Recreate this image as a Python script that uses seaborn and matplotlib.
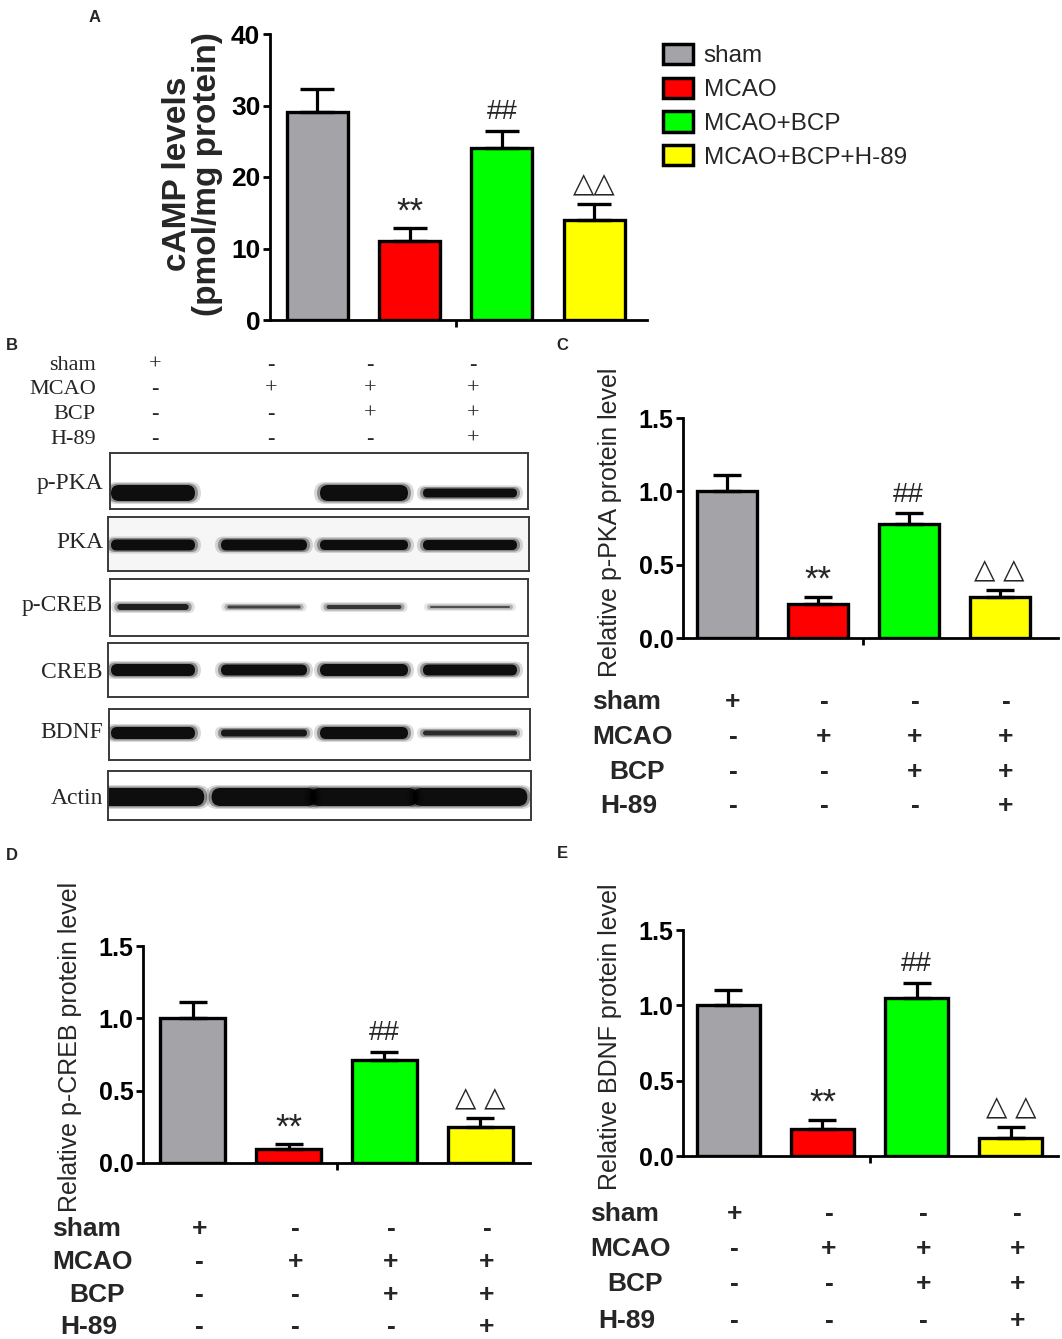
import numpy as np
import pandas as pd
import matplotlib
matplotlib.use("Agg")
import matplotlib.pyplot as plt
import seaborn as sns
from matplotlib import font_manager, transforms
from matplotlib.patches import Patch, FancyBboxPatch

W, H = 1062, 1339

groups = ['sham', 'MCAO', 'MCAO+BCP', 'MCAO+BCP+H-89']
bar_colors = ['#a3a3a8', '#ff0000', '#00ff00', '#ffff00']

# Panel A: cAMP
camp_mean = [29.1, 11.0, 24.0, 14.0]
camp_sem = [3.2, 1.8, 2.5, 2.2]
# Panel C: p-PKA
ppka_mean = [1.0, 0.23, 0.78, 0.28]
ppka_sem = [0.11, 0.05, 0.07, 0.05]
# Panel D: p-CREB
pcreb_mean = [1.0, 0.10, 0.71, 0.25]
pcreb_sem = [0.11, 0.03, 0.06, 0.06]
# Panel E: BDNF
bdnf_mean = [1.0, 0.18, 1.05, 0.12]
bdnf_sem = [0.10, 0.06, 0.10, 0.07]

marks = ['', '**', '##', '\u25b3\u25b3']
marks_wide = ['', '**', '##', '\u25b3 \u25b3']

treat_rows = ['sham', 'MCAO', 'BCP', 'H-89']
treat_signs = [['+', '-', '-', '-'],
               ['-', '+', '+', '+'],
               ['-', '-', '+', '+'],
               ['-', '-', '-', '+']]

# western blot band thickness (px) per lane
blot_names = ['p-PKA', 'PKA', 'p-CREB', 'CREB', 'BDNF', 'Actin']
ppka_band = [16, 0, 16, 9]
pka_band = [11, 11, 10, 10]
pcreb_band = [6, 3, 4, 2]
creb_band = [12, 11, 12, 11]
bdnf_band = [12, 7, 12, 5]
actin_band = [18, 18, 18, 18]

sns.set_theme(style='white')
plt.rcParams['font.family'] = ['Liberation Sans', 'DejaVu Sans']

names = {f.name for f in font_manager.fontManager.ttflist}
narrow = 'Liberation Sans Narrow' if 'Liberation Sans Narrow' in names else 'Liberation Sans'
NARROW = [narrow, 'DejaVu Sans']
SERIF = ['Liberation Serif', 'DejaVu Serif']

fig = plt.figure(figsize=(W / 100, H / 100), dpi=100)


def rect(l, t, r, b):
    return [l / W, 1 - b / H, (r - l) / W, (b - t) / H]


def bar_panel(ax, means, sems, mk, ylim, yticks, ylabels, xlim, width, cap,
              tick_font, tick_size, mark_size):
    df = pd.DataFrame({'group': groups, 'value': means})
    sns.barplot(data=df, x='group', y='value', hue='group', palette=bar_colors,
                saturation=1, edgecolor='black', linewidth=2.4, width=width,
                legend=False, ax=ax, zorder=2)
    ax.errorbar(np.arange(4), means, yerr=[np.zeros(4), sems], fmt='none',
                ecolor='black', elinewidth=2.3, capsize=cap, capthick=2.4, zorder=3)
    for i, (m, s, t) in enumerate(zip(means, sems, mk)):
        if t:
            big = t == '**'
            ax.annotate(t, (i, m + s), xytext=(0, 0 if big else 4),
                        textcoords='offset points', ha='center', va='bottom',
                        fontsize=mark_size + (5 if big else 0),
                        family=['Liberation Sans', 'DejaVu Sans'])
    ax.set_xlim(xlim)
    ax.set_ylim(ylim)
    ax.set_xticks([1.5])
    ax.set_xticklabels([''])
    ax.set_yticks(yticks)
    ax.set_yticklabels(ylabels, fontweight='bold', fontsize=tick_size, family=tick_font)
    ax.set_xlabel('')
    ax.tick_params(axis='both', direction='out', length=5, width=2, colors='black', pad=2,
                   left=True, bottom=True)
    for side in ['top', 'right']:
        ax.spines[side].set_visible(False)
    for side in ['left', 'bottom']:
        ax.spines[side].set_linewidth(2)
        ax.spines[side].set_color('black')
    ax.set_facecolor('none')


def sign_table(ax, rows_y, label_x):
    trans = transforms.blended_transform_factory(ax.transData, fig.transFigure)
    offs = [0, 0, 17, 8]
    for r, (name, signs) in enumerate(zip(treat_rows, treat_signs)):
        y = 1 - rows_y[r] / H
        fig.text((label_x + offs[r]) / W, y, name, ha='left', va='center',
                 fontsize=19, fontweight='bold')
        for i, s in enumerate(signs):
            ax.text(i + 0.07, y, s, transform=trans, ha='center', va='center',
                    fontsize=19, fontweight='bold')


# ---------- Panel A ----------
axA = fig.add_axes(rect(270, 34, 647, 320))
bar_panel(axA, camp_mean, camp_sem, marks, (0, 40), [0, 10, 20, 30, 40],
          ['0', '10', '20', '30', '40'], (-0.51, 3.57), 0.66, 12, NARROW, 19, 20)
axA.set_ylabel('cAMP levels\n(pmol/mg protein)', fontsize=24, fontweight='bold',
               linespacing=0.95)
axA.yaxis.set_label_coords(-0.125, 0.51)
handles = [Patch(facecolor=c, edgecolor='black', linewidth=2.5) for c in bar_colors]
axA.legend(handles, groups, loc='upper left', bbox_to_anchor=(663 / W, 1 - 44 / H),
           bbox_transform=fig.transFigure, frameon=False,
           prop={'family': NARROW, 'size': 17.5},
           handlelength=1.23, handleheight=0.9, handletextpad=0.45, labelspacing=0.42,
           borderaxespad=0, borderpad=0)

# ---------- Panel C ----------
axC = fig.add_axes(rect(683, 418, 1058, 638))
bar_panel(axC, ppka_mean, ppka_sem, marks_wide, (0, 1.5), [0, 0.5, 1.0, 1.5],
          ['0.0', '0.5', '1.0', '1.5'], (-0.48, 3.64), 0.66, 10,
          ['Liberation Sans', 'DejaVu Sans'], 18, 20)
axC.set_ylabel('Relative p-PKA protein level', fontsize=18)
axC.yaxis.set_label_coords(-0.163, 0.525)
sign_table(axC, [702, 737, 772, 806], 592)

# ---------- Panel D ----------
axD = fig.add_axes(rect(143, 946, 530, 1163))
bar_panel(axD, pcreb_mean, pcreb_sem, marks_wide, (0, 1.5), [0, 0.5, 1.0, 1.5],
          ['0.0', '0.5', '1.0', '1.5'], (-0.52, 3.52), 0.68, 10,
          ['Liberation Sans', 'DejaVu Sans'], 18, 20)
axD.set_ylabel('Relative p-CREB protein level', fontsize=18)
axD.yaxis.set_label_coords(-0.158, 0.535)
sign_table(axD, [1229, 1262, 1295, 1327], 52)

# ---------- Panel E ----------
axE = fig.add_axes(rect(683, 930, 1058, 1156))
bar_panel(axE, bdnf_mean, bdnf_sem, marks_wide, (0, 1.5), [0, 0.5, 1.0, 1.5],
          ['0.0', '0.5', '1.0', '1.5'], (-0.48, 3.5), 0.67, 10,
          ['Liberation Sans', 'DejaVu Sans'], 18, 20)
axE.set_ylabel('Relative BDNF protein level', fontsize=18)
axE.yaxis.set_label_coords(-0.163, 0.527)
sign_table(axE, [1214, 1249, 1284, 1321], 590)

# ---------- Panel B: western blot ----------
lane_x = [153, 264, 364, 470]
lane_w = [84, 86, 88, 94]
header_x = [155, 271, 370, 473]
header_y = [365, 389, 414, 439]
for r, (name, signs) in enumerate(zip(treat_rows, treat_signs)):
    fig.text(96 / W, 1 - header_y[r] / H, name, ha='right', va='center',
             fontsize=16, family=SERIF)
    for x, s in zip(header_x, signs):
        fig.text(x / W, 1 - header_y[r] / H, s, ha='center', va='center',
                 fontsize=16, family=SERIF)

blot_boxes = [(110, 453, 528, 509), (108, 517, 529, 571), (110, 579, 528, 636),
              (108, 643, 528, 697), (109, 709, 530, 760), (108, 771, 531, 820)]
band_center = [40, 28, 28, 27, 24, 26]
band_scale = [1.0, 1.0, 0.85, 1.0, 1.0, 1.22]
band_sets = [ppka_band, pka_band, pcreb_band, creb_band, bdnf_band, actin_band]
label_y = [484, 543, 606, 672, 733, 799]

for name, box, yc, ws, bands, ly in zip(blot_names, blot_boxes, band_center,
                                        band_scale, band_sets, label_y):
    l, t, r, b = box
    ax = fig.add_axes(rect(l, t, r, b))
    ax.set_xlim(l, r)
    ax.set_ylim(b - t, 0)
    ax.set_xticks([])
    ax.set_yticks([])
    ax.set_facecolor('#f6f6f6' if name == 'PKA' else 'white')
    for sp in ax.spines.values():
        sp.set_linewidth(1.4)
        sp.set_color('#3a3a3a')
    for x, w, h in zip(lane_x, lane_w, bands):
        if h <= 0:
            continue
        w = w * ws
        dark = min(1.0, 0.5 + h / 16)
        for grow, alpha in [(6, 0.15), (3, 0.35), (0, 0.9)]:
            hh = h + grow
            ww = w + grow * 2
            ax.add_patch(FancyBboxPatch((x - ww / 2, yc - hh / 2), ww, hh,
                                        boxstyle=f"round,pad=0,rounding_size={hh / 2}",
                                        facecolor='black', edgecolor='none',
                                        alpha=alpha * dark))
    fig.text(103 / W, 1 - ly / H, name, ha='right', va='center', fontsize=17, family=SERIF)

# panel letters
for letter, x, y in [('A', 95, 18), ('B', 12, 345), ('C', 562, 345),
                     ('D', 12, 855), ('E', 562, 853)]:
    fig.text(x / W, 1 - y / H, letter, ha='center', va='center', fontsize=12,
             fontweight='bold')

fig.savefig('out.png', dpi=100)
